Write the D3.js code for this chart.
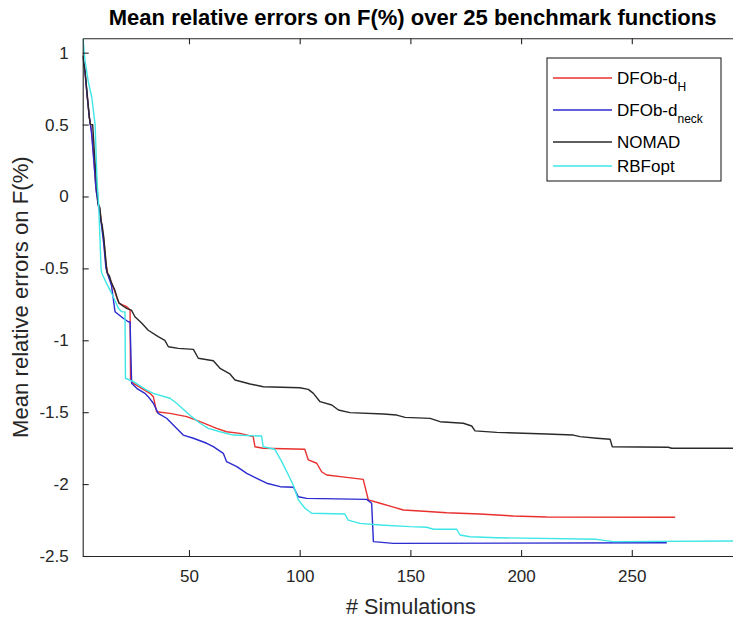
<!DOCTYPE html>
<html>
<head>
<meta charset="utf-8">
<script src="https://cdn.jsdelivr.net/npm/d3@7"></script>
<style>
  html, body { margin: 0; padding: 0; background: #fff; }
  svg { display: block; font-family: "Liberation Sans", Arial, Helvetica, sans-serif; }
</style>
</head>
<body>
<svg id="chart" width="733" height="624"></svg>
<script>
// ---- data ----
const titleText = "Mean relative errors on F(%) over 25 benchmark functions";
const xLabelText = "# Simulations";
const yLabelText = "Mean relative errors on F(%)";
const xTicks = [50, 100, 150, 200, 250];
const yTicks = [1, 0.5, 0, -0.5, -1, -1.5, -2, -2.5];
const seriesNames = ["DFOb-d", "DFOb-d", "NOMAD", "RBFopt"];
const seriesSubs = ["H", "neck", "", ""];

const dfobH = [[2,0.98],[3,0.88],[4,0.7],[5,0.55],[6,0.46],[7,0.27],[8,0.06],[9,-0.05],[9.8,-0.1],[10.5,-0.19],[11.5,-0.3],[12.5,-0.47],[13.5,-0.55],[15,-0.6],[16.5,-0.66],[17.5,-0.71],[18.4,-0.743],[21.9,-0.766],[23.4,-0.789],[23.6,-1.276],[24.9,-1.299],[32.4,-1.369],[33.9,-1.392],[35.4,-1.497],[41.4,-1.508],[49,-1.531],[55,-1.566],[62.5,-1.612],[67,-1.636],[73,-1.647],[79,-1.67],[79.8,-1.74],[83.5,-1.751],[102.3,-1.758],[103.9,-1.832],[107.7,-1.855],[109.9,-1.914],[112.2,-1.937],[121.2,-1.953],[128.7,-1.967],[131,-2.11],[136.3,-2.133],[141.6,-2.157],[146.8,-2.18],[154.4,-2.187],[166.4,-2.199],[181.4,-2.208],[196.5,-2.222],[211.6,-2.229],[269.6,-2.231]];

const dfobNeck = [[2,0.98],[3,0.87],[4,0.7],[5,0.55],[6,0.44],[7,0.25],[8,0.05],[9,-0.06],[9.8,-0.12],[10.5,-0.2],[11.5,-0.33],[12.5,-0.5],[13.5,-0.55],[15,-0.62],[16.6,-0.801],[20.3,-0.847],[22.6,-0.871],[23.4,-0.873],[24.1,-1.299],[26.4,-1.334],[30.1,-1.369],[31.6,-1.392],[33.9,-1.438],[36.1,-1.508],[39.9,-1.542],[43.7,-1.601],[47.4,-1.659],[52,-1.681],[58,-1.716],[61,-1.74],[65.5,-1.786],[67,-1.844],[71.6,-1.879],[76.1,-1.925],[80.6,-1.96],[85.1,-1.994],[91.2,-2.018],[97.2,-2.022],[99.4,-2.088],[103.2,-2.099],[130.3,-2.106],[132.5,-2.133],[133.3,-2.4],[142.3,-2.412],[265.8,-2.408]];

const nomad = [[2,0.98],[3,0.88],[4,0.72],[5,0.55],[5.5,0.5],[6.5,0.5],[7.3,0.3],[8.5,0.05],[9,-0.05],[9.8,-0.08],[10.3,-0.17],[10.8,-0.2],[11.5,-0.28],[12.5,-0.45],[13,-0.53],[14,-0.55],[15,-0.6],[16.5,-0.65],[17.5,-0.7],[18.4,-0.74],[20,-0.76],[22,-0.78],[24,-0.79],[25.6,-0.836],[28.6,-0.88],[31.6,-0.93],[36.1,-0.975],[39.1,-1.0],[40.7,-1.045],[45.2,-1.056],[52,-1.063],[54.2,-1.125],[61,-1.142],[64,-1.195],[68.5,-1.234],[70.8,-1.276],[77.6,-1.304],[83.6,-1.323],[100.1,-1.33],[103.9,-1.341],[106.2,-1.369],[109.2,-1.427],[114.5,-1.45],[117.5,-1.485],[122.7,-1.503],[137.8,-1.513],[143.8,-1.52],[147.6,-1.536],[158.9,-1.543],[163.4,-1.566],[173.9,-1.577],[177.7,-1.596],[179.2,-1.63],[189,-1.64],[211.5,-1.652],[223.6,-1.659],[226.6,-1.67],[234.2,-1.681],[240.2,-1.688],[241.2,-1.74],[266.5,-1.744],[268,-1.751],[300,-1.751]];

const rbfopt = [[2,1.12],[3,0.95],[4.5,0.8],[6.1,0.69],[7.6,0.5],[8.5,0.1],[9.2,-0.05],[10.3,-0.5],[10.6,-0.534],[12.8,-0.604],[15.8,-0.697],[18.1,-0.778],[19.6,-0.801],[21.1,-0.803],[21.3,-1.264],[24.9,-1.288],[30.9,-1.346],[33.9,-1.369],[41.4,-1.403],[44.4,-1.438],[51.2,-1.531],[55,-1.577],[58.7,-1.612],[64,-1.636],[70,-1.659],[82.8,-1.666],[83.5,-1.74],[88.8,-1.758],[91.9,-1.844],[94.9,-1.937],[97.1,-2.006],[99.4,-2.11],[102.4,-2.168],[105.4,-2.203],[120.4,-2.208],[121.9,-2.25],[127.2,-2.273],[136.3,-2.284],[149.8,-2.296],[157.4,-2.3],[160.4,-2.314],[170.9,-2.314],[172.4,-2.354],[176.9,-2.366],[189,-2.373],[234.1,-2.384],[241.6,-2.4],[300,-2.395]];

const seriesData = [dfobH, dfobNeck, nomad, rbfopt];
const seriesColors = ["#e8302f", "#2b2bd0", "#2a2a2a", "#3fe6e6"];

// ---- layout ----
const svg = d3.select("#chart");
const axisColor = "#262626";
const plotLeft = 82.7, plotRight = 742.5, plotTop = 38.3, plotBottom = 556;
const x = d3.scaleLinear().domain([2, 300]).range([plotLeft, plotRight]);
const y = d3.scaleLinear().domain([-2.5, 1.1]).range([plotBottom, plotTop]);

svg.append("rect").attr("width", 733).attr("height", 624).attr("fill", "#fff");

svg.append("defs").append("clipPath").attr("id", "clip")
  .append("rect").attr("x", plotLeft).attr("y", plotTop)
  .attr("width", plotRight - plotLeft).attr("height", plotBottom - plotTop);

// lines
const line = d3.line().x(d => x(d[0])).y(d => y(d[1]));
const lines = svg.append("g").attr("clip-path", "url(#clip)");
seriesData.forEach((s, i) => {
  lines.append("path").datum(s)
    .attr("d", line)
    .attr("fill", "none")
    .attr("stroke", seriesColors[i])
    .attr("stroke-width", 1.4)
    .attr("stroke-linejoin", "round");
});

// axes
const tickLen = 6;
const fontTick = 17;
const xAxis = d3.axisBottom(x).tickValues(xTicks).tickSizeInner(-tickLen).tickSizeOuter(0).tickPadding(14);
const gx = svg.append("g").attr("transform", `translate(0,${plotBottom})`).call(xAxis);
const xAxisTop = d3.axisTop(x).tickValues(xTicks).tickSizeInner(-tickLen).tickSizeOuter(0).tickFormat("");
const gxt = svg.append("g").attr("transform", `translate(0,${plotTop})`).call(xAxisTop);
const yAxis = d3.axisLeft(y).tickValues(yTicks).tickSizeInner(-tickLen).tickSizeOuter(0).tickPadding(14)
  .tickFormat(d => d3.format("")(d).replace("\u2212", "-"));
const gy = svg.append("g").attr("transform", `translate(${plotLeft},0)`).call(yAxis);

[gx, gxt, gy].forEach(g => {
  g.selectAll(".domain").attr("stroke", axisColor).attr("stroke-width", 1.1);
  g.selectAll(".tick line").attr("stroke", axisColor).attr("stroke-width", 1.1);
  g.selectAll(".tick text").attr("fill", axisColor).attr("font-size", fontTick)
    .attr("font-family", "'Liberation Sans', Arial, sans-serif");
});

// labels
function fitText(sel, target) {
  const w = sel.node().getComputedTextLength();
  const fs = parseFloat(sel.attr("font-size"));
  sel.attr("font-size", fs * target / w);
}

const title = svg.append("text").attr("x", (plotLeft + plotRight) / 2).attr("y", 25)
  .attr("text-anchor", "middle").attr("font-weight", "bold").attr("font-size", 16)
  .attr("fill", "#000").text(titleText);
fitText(title, 608);

const xl = svg.append("text").attr("x", 411).attr("y", 614)
  .attr("text-anchor", "middle").attr("font-size", 20).attr("fill", axisColor).text(xLabelText);
fitText(xl, 130);

const yl = svg.append("text").attr("transform", `translate(28,${(plotTop + plotBottom) / 2}) rotate(-90)`)
  .attr("text-anchor", "middle").attr("font-size", 20).attr("fill", axisColor).text(yLabelText);
fitText(yl, 282);

// legend
const lg = svg.append("g").attr("transform", "translate(547,58)");
lg.append("rect").attr("width", 174).attr("height", 123)
  .attr("fill", "#fff").attr("stroke", axisColor).attr("stroke-width", 1.1);
const rowY = [20, 52, 84, 108];
seriesNames.forEach((n, i) => {
  const r = lg.append("g").attr("transform", `translate(0,${rowY[i]})`);
  r.append("line").attr("x1", 6).attr("x2", 65).attr("y1", 0).attr("y2", 0)
    .attr("stroke", seriesColors[i]).attr("stroke-width", 1.4);
  const t = r.append("text").attr("x", 70).attr("y", 6).attr("font-size", 17).attr("fill", "#000");
  t.append("tspan").text(n);
  if (seriesSubs[i]) {
    t.append("tspan").attr("dy", 7).attr("font-size", 12).text(seriesSubs[i]);
  }
});
</script>
</body>
</html>
